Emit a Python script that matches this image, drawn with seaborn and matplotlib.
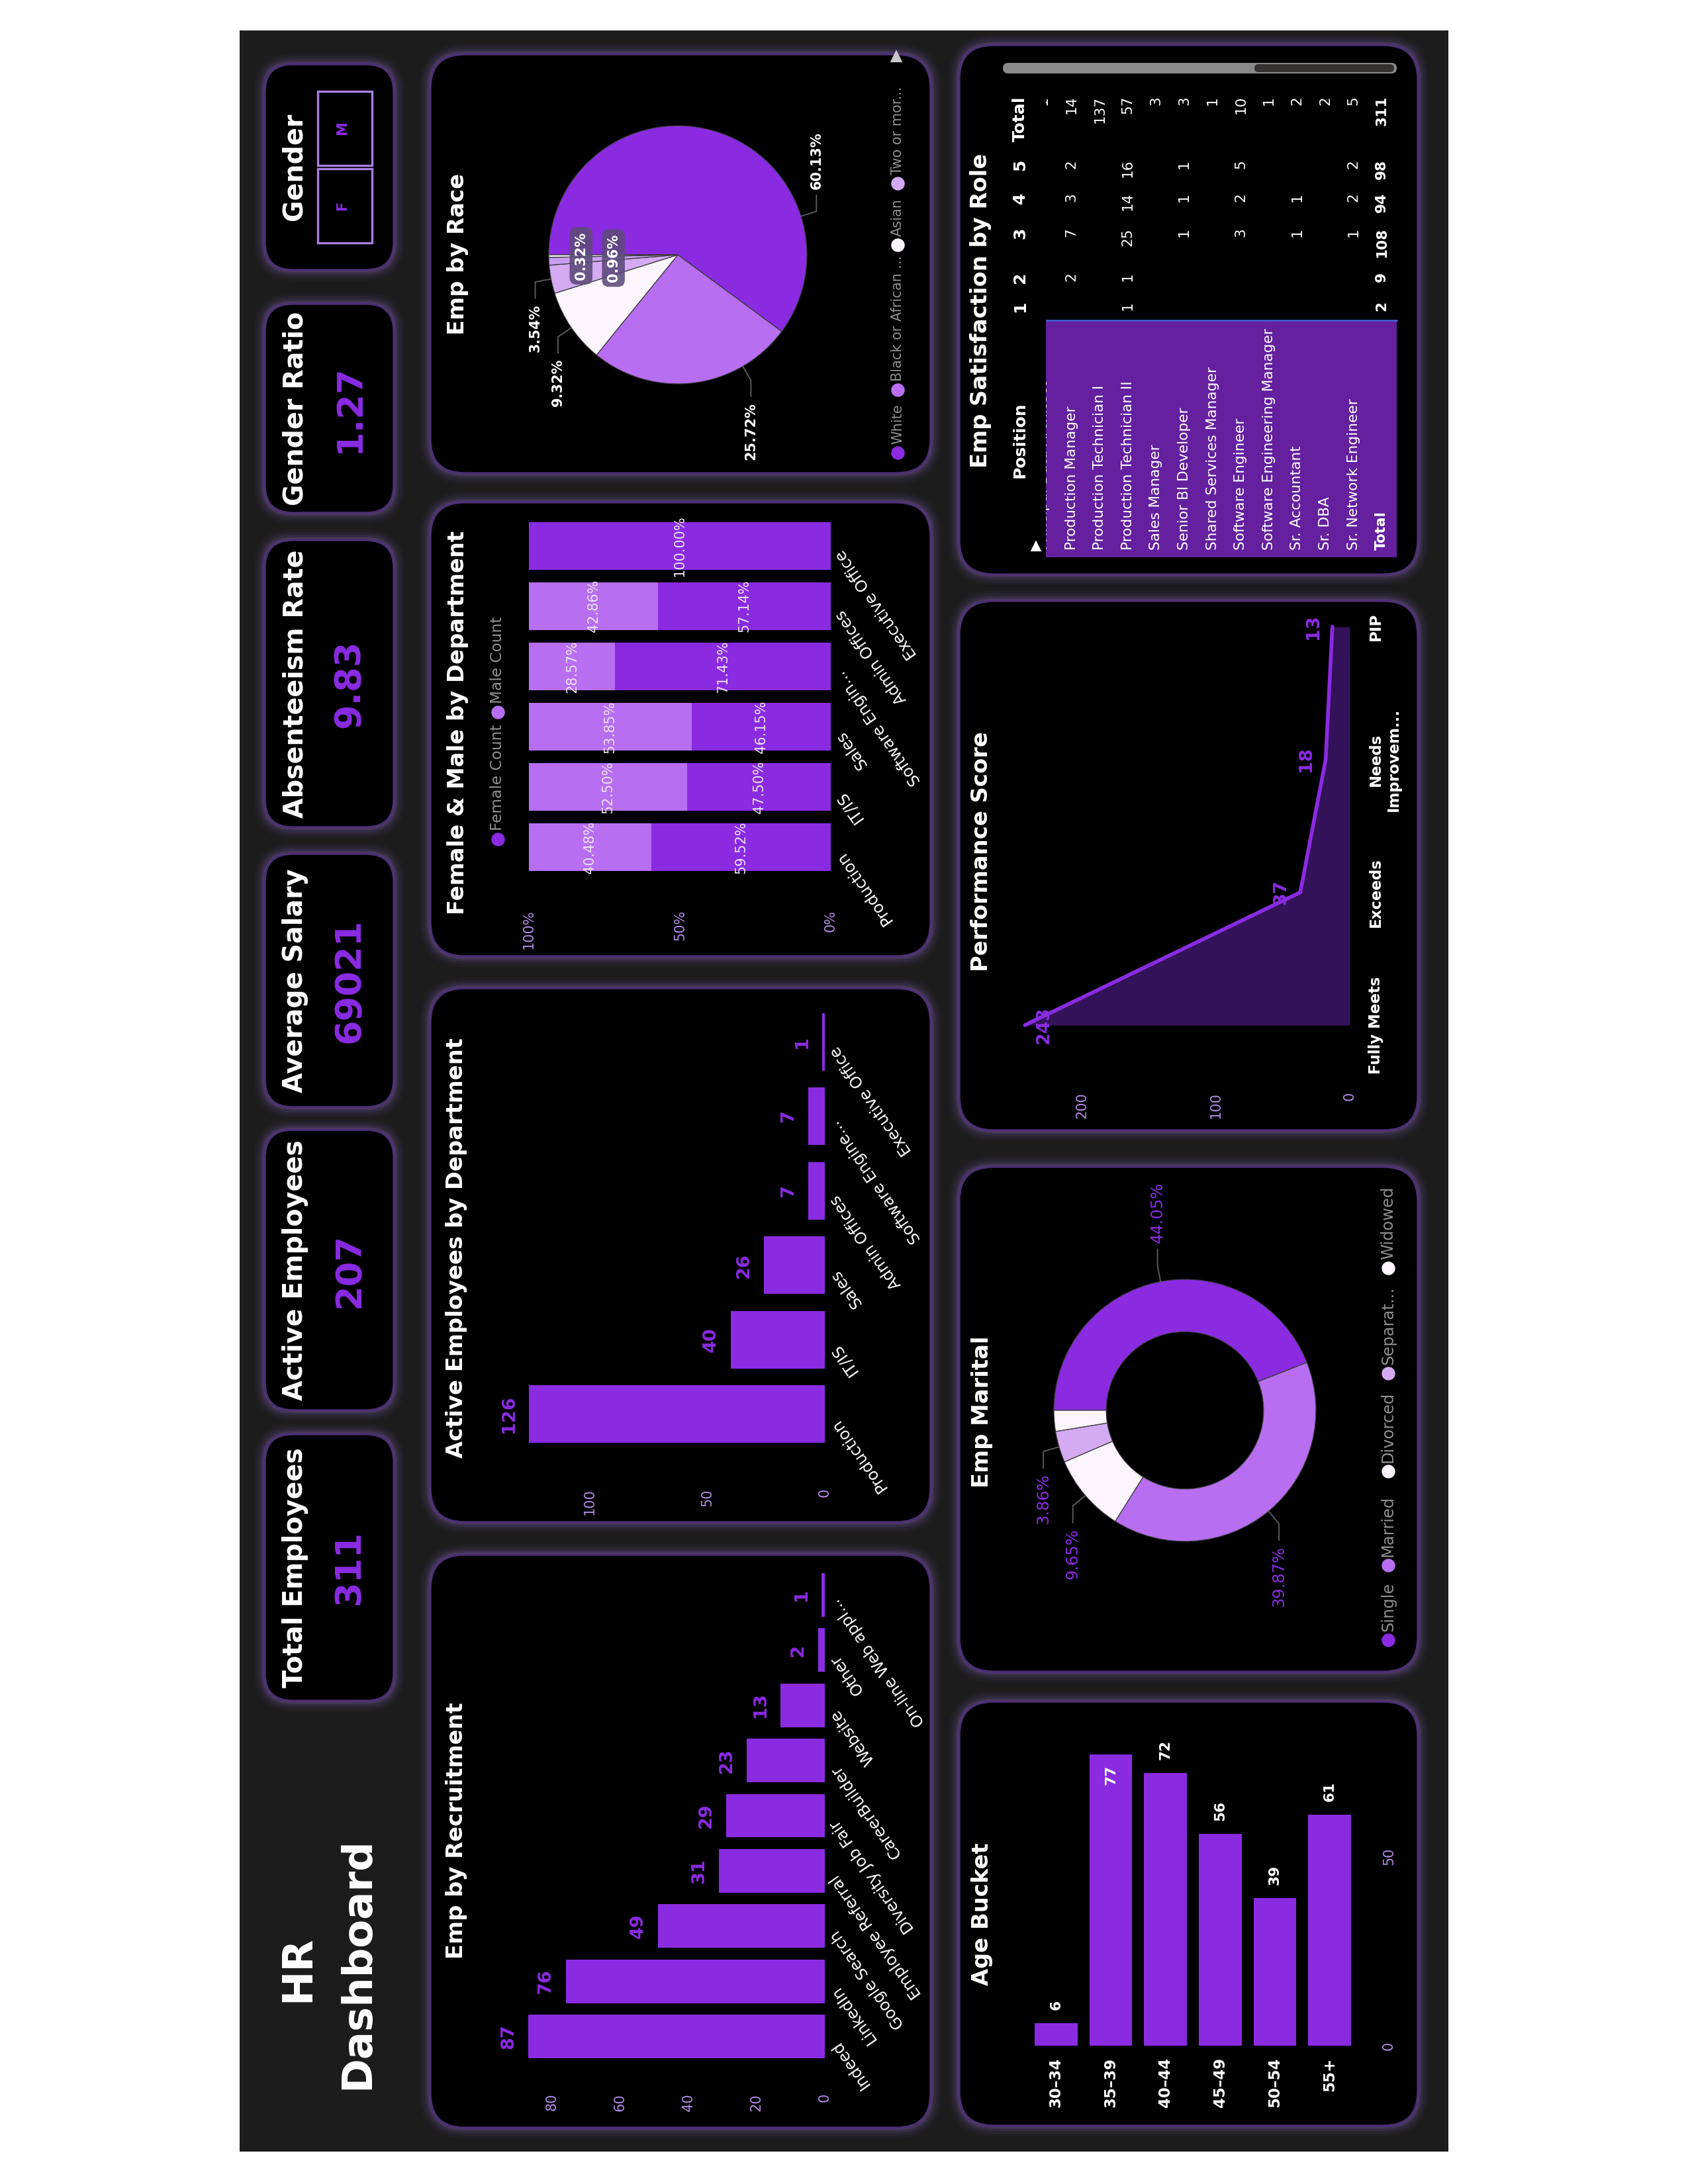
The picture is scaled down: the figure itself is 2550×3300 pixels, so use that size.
import numpy as np
import matplotlib
matplotlib.use("Agg")
import matplotlib.pyplot as plt
import seaborn as sns
from matplotlib.patches import FancyBboxPatch, Rectangle
from matplotlib.transforms import blended_transform_factory as blend

# ---------------- data ----------------
kpi_names = ["Gender Ratio", "Absenteeism Rate", "Average Salary", "Active Employees", "Total Employees"]
kpi_values = ["1.27", "9.83", "69021", "207", "311"]
genders = ["F", "M"]

recruit_src = ["Indeed", "LinkedIn", "Google Search", "Employee Referral", "Diversity Job Fair",
               "CareerBuilder", "Website", "Other", "On-line Web appl..."]
recruit_cnt = [87, 76, 49, 31, 29, 23, 13, 2, 1]

dept_names = ["Production", "IT/IS", "Sales", "Admin Offices", "Software Engine...", "Executive Office"]
dept_active = [126, 40, 26, 7, 7, 1]

gender_depts = ["Production", "IT/IS", "Sales", "Software Engin...", "Admin Offices", "Executive Office"]
female_cnt = [75, 19, 12, 5, 4, 1]
male_cnt = [51, 21, 14, 2, 3, 0]

race_names = ["White", "Black or African American", "Asian", "Two or more races",
              "American Indian or Alaska Native", "Hispanic"]
race_cnt = [187, 80, 29, 11, 3, 1]
race_legend = ["White", "Black or African ...", "Asian", "Two or mor..."]

age_buckets = ["30\u201334", "35\u201339", "40\u201344", "45\u201349", "50\u201354", "55+"]
age_cnt = [6, 77, 72, 56, 39, 61]

marital_names = ["Single", "Married", "Divorced", "Separated", "Widowed"]
marital_cnt = [137, 124, 30, 12, 8]
marital_legend = ["Single", "Married", "Divorced", "Separat...", "Widowed"]

perf_levels = ["Fully Meets", "Exceeds", "Needs\nImprovem...", "PIP"]
perf_cnt = [243, 37, 18, 13]

sat_cols = ["1", "2", "3", "4", "5", "Total"]
sat_roles = ["Principal Data Architect", "Production Manager", "Production Technician I",
             "Production Technician II", "Sales Manager", "Senior BI Developer",
             "Shared Services Manager", "Software Engineer", "Software Engineering Manager",
             "Sr. Accountant", "Sr. DBA", "Sr. Network Engineer"]
sat_1 = [None, None, None, 1, None, None, None, None, None, None, None, None]
sat_2 = [None, 2, None, 1, None, None, None, None, None, None, None, None]
sat_3 = [None, 7, None, 25, None, 1, None, 3, None, 1, None, 1]
sat_4 = [None, 3, None, 14, None, 1, None, 2, None, 1, None, 2]
sat_5 = [None, 2, None, 16, None, 1, None, 5, None, None, None, 2]
sat_total = [1, 14, 137, 57, 3, 3, 1, 10, 1, 2, 2, 5]
sat_grand = [2, 9, 108, 94, 98, 311]

# ---------------- style ----------------
PURPLE = "#8a2be2"
LIGHT = "#b76ef0"
LAVENDER = "#d4aaf2"
PALE = "#fdf5fe"
TICK = "#b48ae6"
GREY = "#8f8f8f"
AREA = "#331259"

W, H = 2550, 3300
fig = plt.figure(figsize=(W / 300, H / 300), dpi=300, facecolor="white")
plt.rcParams["font.family"] = ["DejaVu Sans"]
bg = fig.add_axes([0, 0, 1, 1])
bg.set_xlim(0, W)
bg.set_ylim(H, 0)
bg.axis("off")


def box(x0, y0, x1, y1):
    ax = fig.add_axes([x0 / W, 1 - y1 / H, (x1 - x0) / W, (y1 - y0) / H])
    ax.axis("off")
    return ax


def card(x0, y0, x1, y1, r=52):
    for k, a in [(16, .05), (12, .07), (8, .1), (5, .15), (2.5, .25)]:
        bg.add_patch(FancyBboxPatch((x0 - k, y0 - k), x1 - x0 + 2 * k, y1 - y0 + 2 * k,
                                    boxstyle=f"round,pad=0,rounding_size={r + k}",
                                    fc="#8e67c4", ec="none", alpha=a))
    bg.add_patch(FancyBboxPatch((x0, y0), x1 - x0, y1 - y0,
                                boxstyle=f"round,pad=0,rounding_size={r}",
                                fc="black", ec="#4b2f72", lw=0.8))


def vtext(x, y, s, size, color="white", weight="normal", **kw):
    bg.text(x, y, s, rotation=90, ha="center", va="center", fontsize=size,
            color=color, fontweight=weight, **kw)


def legend_item(x, y, label, color, size):
    bg.scatter([x], [y], s=24, color=color, linewidths=0, zorder=5)
    bg.text(x, y - 13, label, rotation=90, rotation_mode="anchor", ha="left", va="center",
            fontsize=size, color=GREY)


bg.add_patch(Rectangle((362, 46), 1826, 3205, fc="#1c1c1c", ec="none"))

# ---------------- KPI column ----------------
kpi_boxes = [(459, 775), (816, 1250), (1290, 1673), (1707, 2131), (2167, 2570)]
card(400, 97, 595, 408, r=42)
for (y0, y1) in kpi_boxes:
    card(400, y0, 595, y1, r=42)
for name, val, (y0, y1) in zip(kpi_names, kpi_values, kpi_boxes):
    cy = (y0 + y1) / 2
    vtext(446, cy, name, 9.5, weight="bold")
    vtext(528, cy, val, 13, PURPLE, "bold")

vtext(444, 252, "Gender", 9.5, weight="bold")
for i, g in enumerate(genders):
    y1 = 367 - i * 117
    bg.add_patch(Rectangle((480, y1 - 112), 82, 112, fc="none", ec="#a77fe0", lw=0.8))
    vtext(517, y1 - 56, g, 5, PURPLE, "bold")

vtext(450, 2975, "HR", 15, weight="bold")
vtext(540, 2967, "Dashboard", 15, weight="bold")

# ---------------- cards ----------------
for b in [(650, 82, 1406, 715), (650, 759, 1406, 1445), (650, 1493, 1406, 2300),
          (650, 2349, 1406, 3215), (1449, 68, 2142, 868), (1449, 908, 2142, 1708),
          (1449, 1763, 2142, 2526), (1449, 2571, 2142, 3212)]:
    card(*b)

TITLE = 8.1
vtext(691, 384, "Emp by Race", TITLE, weight="bold")
vtext(691, 1092, "Female & Male by Department", TITLE, weight="bold")
vtext(690, 1886, "Active Employees by Department", TITLE, weight="bold")
vtext(690, 2766, "Emp by Recruitment", TITLE, weight="bold")
vtext(1482, 469, "Emp Satisfaction by Role", TITLE, weight="bold")
vtext(1482, 1287, "Performance Score", TITLE, weight="bold")
vtext(1483, 2133, "Emp Marital", TITLE, weight="bold")
vtext(1483, 2892, "Age Bucket", TITLE, weight="bold")


def hbar_chart(ax, cats, vals, px_per_unit, left_px, base_px, width, ticks, tick_y,
               lab_x, fmt_ticks=str):
    sns.barplot(x=vals, y=cats, orient="h", color=PURPLE, saturation=1, width=width,
                errorbar=None, ax=ax)
    ax.set_ylim(-0.5, len(cats) - 0.5)
    ax.set_xlim((base_px - left_px) / px_per_unit, 0)
    ax.axis("off")
    for t in ticks:
        ax.text(t, tick_y, fmt_ticks(t), transform=blend(ax.transData, bg.transData),
                rotation=90, rotation_mode="anchor", ha="right", va="center",
                color=TICK, fontsize=5)
    for i, name in enumerate(cats):
        ax.annotate(name, (lab_x, i), xycoords=blend(bg.transData, ax.transData),
                    xytext=(0, -2), textcoords="offset points", rotation=125,
                    rotation_mode="anchor", ha="right", va="center",
                    color="white", fontsize=5.8)


# ---------------- Emp by Recruitment ----------------
ax = box(700, 2368, 1246, 3119)
hbar_chart(ax, recruit_src, recruit_cnt, 5.15, 700, 1246, 0.79, [0, 20, 40, 60, 80], 3163, 1260)
for i, v in enumerate(recruit_cnt):
    ax.annotate(str(v), (v, i), xytext=(-7.2, 0), textcoords="offset points", rotation=90,
                ha="center", va="center", color=PURPLE, fontsize=6.5, fontweight="bold")

# ---------------- Active Employees by Department ----------------
ax = box(700, 1518, 1246, 2193)
hbar_chart(ax, dept_names, dept_active, 3.55, 700, 1246, 0.77, [0, 50, 100], 2249, 1260)
for i, v in enumerate(dept_active):
    ax.annotate(str(v), (v, i), xytext=(-7.2, 0), textcoords="offset points", rotation=90,
                ha="center", va="center", color=PURPLE, fontsize=6.5, fontweight="bold")

# ---------------- Female & Male by Department ----------------
fem_pct = [100 * f / (f + m) for f, m in zip(female_cnt, male_cnt)]
mal_pct = [100 * m / (f + m) for f, m in zip(female_cnt, male_cnt)]
ax = box(799, 779, 1255, 1326)
sns.barplot(x=[f + m for f, m in zip(fem_pct, mal_pct)], y=gender_depts, orient="h",
            color=LIGHT, saturation=1, width=0.79, errorbar=None, ax=ax)
sns.barplot(x=fem_pct, y=gender_depts, orient="h", color=PURPLE, saturation=1, width=0.79,
            errorbar=None, ax=ax)
ax.set_ylim(-0.5, len(gender_depts) - 0.5)
ax.set_xlim(100, 0)
ax.axis("off")
for i, (f, m) in enumerate(zip(fem_pct, mal_pct)):
    ax.text(f / 2, i, f"{f:.2f}%", rotation=90, ha="center", va="center", color="#ece2f7", fontsize=5)
    if m > 0:
        ax.text(f + m / 2, i, f"{m:.2f}%", rotation=90, ha="center", va="center",
                color="#ece2f7", fontsize=5)
for t in [0, 50, 100]:
    ax.text(t, 1375, f"{t}%", transform=blend(ax.transData, bg.transData), rotation=90,
            rotation_mode="anchor", ha="right", va="center", color=TICK, fontsize=5)
for i, name in enumerate(gender_depts):
    ax.annotate(name, (1268, i), xycoords=blend(bg.transData, ax.transData), xytext=(0, -2),
                textcoords="offset points", rotation=125, rotation_mode="anchor", ha="right",
                va="center", color="white", fontsize=5.8)
legend_item(752, 1268, "Female Count", PURPLE, 5.6)
legend_item(752, 1076, "Male Count", LIGHT, 5.6)


def leader(ax, ang, text, color, weight, size, r0=1.0, r1=1.125, drop=0.125, gap=0.045):
    a = np.deg2rad(ang)
    x0, y0 = r0 * np.cos(a), r0 * np.sin(a)
    x1, y1 = r1 * np.cos(a), r1 * np.sin(a)
    s = 1 if y1 > 0 else -1
    y2 = y1 + s * drop
    ax.plot([x0, x1, x1], [y0, y1, y2], color="#5c5c5c", lw=0.45, clip_on=False)
    ax.text(x1, y2 + s * gap, text, rotation=90, rotation_mode="anchor",
            ha="left" if s > 0 else "right", va="center", color=color,
            fontweight=weight, fontsize=size, clip_on=False)


# ---------------- Emp by Race ----------------
race_colors = [PURPLE, LIGHT, PALE, LAVENDER, "#c99ef0", "#f6eefc"]
ax = box(829, 190, 1219, 580)
wedges, _ = ax.pie(race_cnt, colors=race_colors, startangle=180, counterclock=False, radius=1,
                   wedgeprops=dict(linewidth=0.3, edgecolor="#3a3a3a"))
ax.set_xlim(-1, 1)
ax.set_ylim(-1, 1)
race_total = sum(race_cnt)
race_label_ang = [17.4, -59.8, -145.6, -169.2]
for i, ang in enumerate(race_label_ang):
    leader(ax, ang, f"{100 * race_cnt[i] / race_total:.2f}%", "white", "bold", 5)
for i, rr in [(4, 0.5), (5, 0.75)]:
    mid = np.deg2rad((wedges[i].theta1 + wedges[i].theta2) / 2)
    ax.text(rr * np.cos(mid), rr * np.sin(mid), f"{100 * race_cnt[i] / race_total:.2f}%",
            rotation=90, ha="center", va="center", color="white", fontweight="bold", fontsize=5,
            bbox=dict(boxstyle="round,pad=0.35,rounding_size=0.5", fc="#5d4a7a", ec="none", alpha=0.88))
for name, col, y in zip(race_legend, race_colors, [684, 589, 370, 277]):
    legend_item(1356, y, name, col, 5)
bg.plot(1354, 86, marker="^", ms=3, color="#c8c8c8")

# ---------------- Emp Marital ----------------
marital_colors = [PURPLE, LIGHT, PALE, LAVENDER, PALE]
ax = box(1592, 1933, 1988, 2329)
wedges, _ = ax.pie(marital_cnt, colors=marital_colors, startangle=180, counterclock=False,
                   radius=1, wedgeprops=dict(width=0.4, linewidth=0.3, edgecolor="#3a3a3a"))
ax.set_xlim(-1, 1)
ax.set_ylim(-1, 1)
mar_total = sum(marital_cnt)
for i in range(4):
    mid = (wedges[i].theta1 + wedges[i].theta2) / 2
    leader(ax, mid, f"{100 * marital_cnt[i] / mar_total:.2f}%", PURPLE, "normal", 5.8)
for name, col, y in zip(marital_legend, marital_colors, [2478, 2365, 2223, 2075, 1916]):
    legend_item(2097, y, name, col, 5.8)

# ---------------- Performance Score ----------------
idx = list(range(len(perf_cnt)))
ax = box(1520, 947, 2039, 1549)
ax.fill_betweenx(idx, 0, perf_cnt, color=AREA, lw=0)
sns.lineplot(x=perf_cnt, y=idx, sort=False, estimator=None, orient="y", color=PURPLE,
             lw=1.35, ax=ax)
ax.set_xlim((2039 - 1520) / 2.02, 0)
ax.set_ylim(0, len(perf_cnt) - 1)
ax.axis("off")
for ln in ax.lines:
    ln.set_clip_on(False)
    ln.set_solid_capstyle("round")
for i, v in enumerate(perf_cnt):
    dx = 7 if v == max(perf_cnt) else -7
    ax.annotate(str(v), (v, i), xytext=(dx, 0), textcoords="offset points", rotation=90,
                ha="center", va="center", color=PURPLE, fontsize=6.5, fontweight="bold")
for i, lvl in enumerate(perf_levels):
    ax.text(2067, i, lvl, transform=blend(bg.transData, ax.transData), rotation=90,
            ha="left", va="center", multialignment="center", color="white",
            fontsize=5.5, fontweight="bold")
for t in [0, 100, 200]:
    ax.text(t, 1650, str(t), transform=blend(ax.transData, bg.transData), rotation=90,
            rotation_mode="anchor", ha="right", va="center", color=TICK, fontsize=5)

# ---------------- Age Bucket ----------------
ax = box(1554, 2600, 2050, 3091)
sns.barplot(x=age_buckets, y=age_cnt, color=PURPLE, saturation=1, width=0.78, errorbar=None, ax=ax)
ax.set_xlim(-0.5, len(age_buckets) - 0.5)
ax.set_ylim(0, (3091 - 2600) / 5.72)
ax.axis("off")
for i, v in enumerate(age_cnt):
    inside = v == max(age_cnt)
    ax.annotate(str(v), (i, v), xytext=(0, -3.8 if inside else 4.8), textcoords="offset points",
                rotation=90, ha="center", va="top" if inside else "bottom", color="white",
                fontsize=5.2, fontweight="bold")
for i, name in enumerate(age_buckets):
    ax.text(i, 3109, name, transform=blend(ax.transData, bg.transData), rotation=90,
            rotation_mode="anchor", ha="right", va="center", color="white",
            fontsize=5.5, fontweight="bold")
for t in [0, 50]:
    ax.text(2098, t, str(t), transform=blend(bg.transData, ax.transData), rotation=90,
            ha="center", va="center", color=TICK, fontsize=5)

# ---------------- Emp Satisfaction by Role ----------------
col_end = [455, 411, 344, 291, 241, 145]
row_x0, row_step = 1576, 42.6
vtext_kw = dict(rotation=90, rotation_mode="anchor", va="center", color="white")
bg.text(1541, 722, "Position", ha="left", fontsize=6, fontweight="bold", **vtext_kw)
for c, y in zip(sat_cols, col_end):
    bg.text(1541, y, c, ha="right", fontsize=6, fontweight="bold", **vtext_kw)

# scroll bar
bg.add_patch(FancyBboxPatch((1515, 95), 595, 16, boxstyle="round,pad=0,rounding_size=8",
                            fc="#8a8a8a", ec="none"))
bg.add_patch(FancyBboxPatch((1895, 97), 211, 12, boxstyle="round,pad=0,rounding_size=6",
                            fc="#353131", ec="none"))
bg.plot(1565, 826, marker="^", ms=2.4, color="white")

tab = box(1580, 100, 2125, 850)
tab.set_xlim(1580, 2125)
tab.set_ylim(850, 100)
tab.add_patch(Rectangle((1580, 484), 530, 358, fc="#64209f", ec="none"))
tab.plot([1580, 2110], [484, 484], color="#3f64d8", lw=0.6)


def cell(x, y, s, ha, weight="normal"):
    t = tab.text(x, y, s, ha=ha, fontsize=5.2, fontweight=weight, clip_on=True, **vtext_kw)
    t.set_clip_box(tab.bbox)


sat_table = [sat_1, sat_2, sat_3, sat_4, sat_5, sat_total]
for i, role in enumerate(sat_roles):
    x = row_x0 + row_step * i
    cell(x, 831, role, "left")
    for col, y in zip(sat_table, col_end):
        if col[i] is not None:
            cell(x, y, str(col[i]), "right")
x = row_x0 + row_step * len(sat_roles)
cell(x, 831, "Total", "left", "bold")
for v, y in zip(sat_grand, col_end):
    cell(x, y, str(v), "right", "bold")

fig.savefig("out.png", dpi=300, facecolor="white")
